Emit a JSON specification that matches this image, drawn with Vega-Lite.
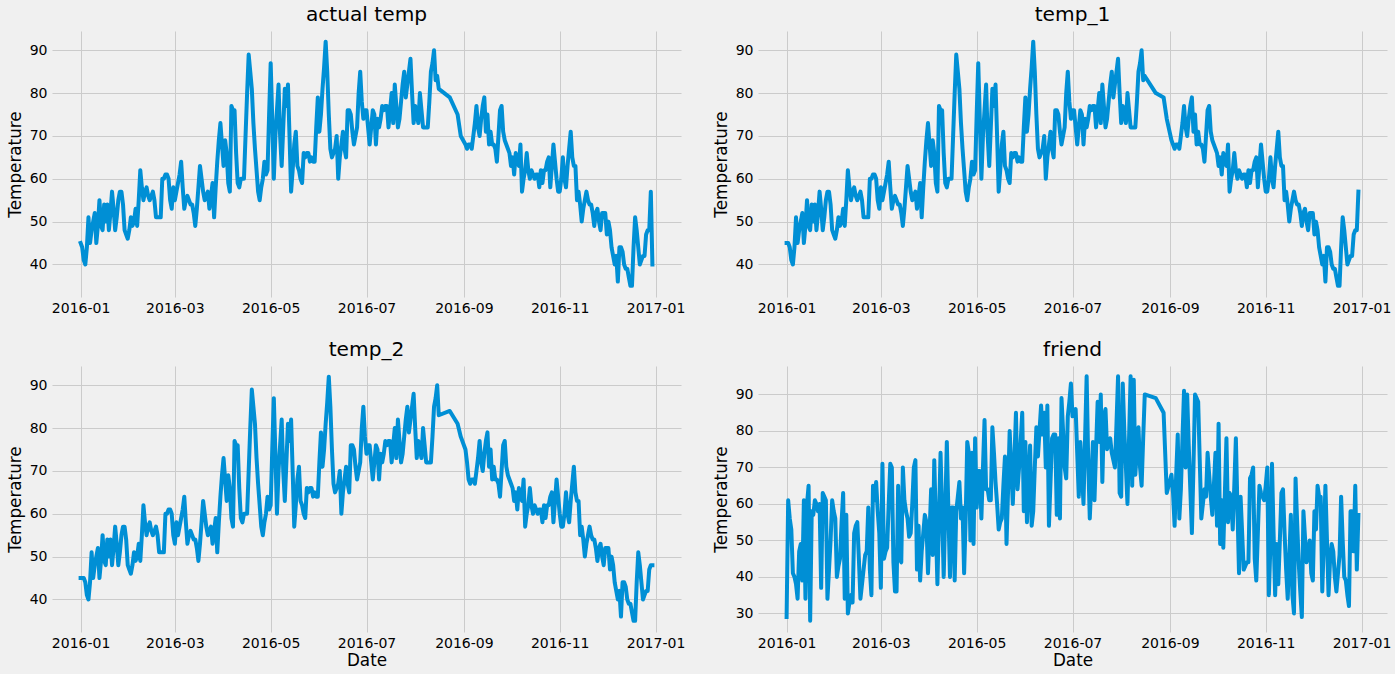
{
"$schema": "https://vega.github.io/schema/vega-lite/v6.json",
"background": "#f0f0f0",
"padding": {"left": 7, "top": 4, "right": 5, "bottom": 5},
"config": {
  "view": {"stroke": null, "fill": "#f0f0f0"},
  "font": "DejaVu Sans",
  "axis": {"domain": false, "ticks": false, "grid": true, "gridColor": "#cbcbcb", "gridWidth": 1, "labelFont": "DejaVu Sans", "labelFontSize": 14, "labelColor": "#000000", "titleFont": "DejaVu Sans", "titleFontSize": 16.8, "titleFontWeight": "normal", "titleColor": "#000000", "labelPadding": 5},
  "title": {"font": "DejaVu Sans", "fontSize": 20.16, "fontWeight": "normal", "color": "#000000", "offset": 6, "baseline": "bottom"}
},
"data": {"values": [
{"date":"2016-01-01","actual":45,"temp_1":45,"temp_2":45,"friend":29},
{"date":"2016-01-02","actual":44,"temp_1":45,"temp_2":45,"friend":61},
{"date":"2016-01-03","actual":41,"temp_1":44,"temp_2":45,"friend":56},
{"date":"2016-01-04","actual":40,"temp_1":41,"temp_2":44,"friend":53},
{"date":"2016-01-05","actual":44,"temp_1":40,"temp_2":41,"friend":41},
{"date":"2016-01-06","actual":51,"temp_1":44,"temp_2":40,"friend":40},
{"date":"2016-01-07","actual":45,"temp_1":51,"temp_2":44,"friend":38},
{"date":"2016-01-08","actual":48,"temp_1":45,"temp_2":51,"friend":34},
{"date":"2016-01-09","actual":50,"temp_1":48,"temp_2":45,"friend":47},
{"date":"2016-01-10","actual":52,"temp_1":50,"temp_2":48,"friend":49},
{"date":"2016-01-11","actual":45,"temp_1":52,"temp_2":50,"friend":39},
{"date":"2016-01-12","actual":49,"temp_1":45,"temp_2":52,"friend":61},
{"date":"2016-01-13","actual":55,"temp_1":49,"temp_2":45,"friend":34},
{"date":"2016-01-14","actual":49,"temp_1":55,"temp_2":49,"friend":60},
{"date":"2016-01-15","actual":48,"temp_1":49,"temp_2":55,"friend":65},
{"date":"2016-01-16","actual":54,"temp_1":48,"temp_2":49,"friend":28},
{"date":"2016-01-17","actual":50,"temp_1":54,"temp_2":48,"friend":58},
{"date":"2016-01-18","actual":54,"temp_1":50,"temp_2":54,"friend":57},
{"date":"2016-01-19","actual":48,"temp_1":54,"temp_2":50,"friend":61},
{"date":"2016-01-20","actual":52,"temp_1":48,"temp_2":54,"friend":60},
{"date":"2016-01-21","actual":57,"temp_1":52,"temp_2":48,"friend":58},
{"date":"2016-01-22","actual":53,"temp_1":57,"temp_2":52,"friend":60},
{"date":"2016-01-23","actual":48,"temp_1":53,"temp_2":57,"friend":37},
{"date":"2016-01-24","actual":51,"temp_1":48,"temp_2":53,"friend":63},
{"date":"2016-01-25","actual":55,"temp_1":51,"temp_2":48,"friend":62},
{"date":"2016-01-26","actual":57,"temp_1":55,"temp_2":51,"friend":61},
{"date":"2016-01-27","actual":57,"temp_1":57,"temp_2":55,"friend":34},
{"date":"2016-01-28","actual":54,"temp_1":57,"temp_2":57,"friend":42},
{"date":"2016-01-29","actual":48,"temp_1":54,"temp_2":57,"friend":50},
{"date":"2016-01-30","actual":47,"temp_1":48,"temp_2":54,"friend":61},
{"date":"2016-01-31","actual":46,"temp_1":47,"temp_2":48,"friend":58},
{"date":"2016-02-01","actual":48,"temp_1":46,"temp_2":47,"friend":56},
{"date":"2016-02-02","actual":51,"temp_1":48,"temp_2":46,"friend":40},
{"date":"2016-02-03","actual":49,"temp_1":51,"temp_2":48,"friend":43},
{"date":"2016-02-04","actual":50,"temp_1":49,"temp_2":51,"friend":45},
{"date":"2016-02-05","actual":53,"temp_1":50,"temp_2":49,"friend":55},
{"date":"2016-02-06","actual":49,"temp_1":53,"temp_2":50,"friend":63},
{"date":"2016-02-07","actual":55,"temp_1":49,"temp_2":53,"friend":34},
{"date":"2016-02-08","actual":62,"temp_1":55,"temp_2":49,"friend":57},
{"date":"2016-02-09","actual":58,"temp_1":62,"temp_2":55,"friend":30},
{"date":"2016-02-10","actual":55,"temp_1":58,"temp_2":62,"friend":33},
{"date":"2016-02-11","actual":57,"temp_1":55,"temp_2":58,"friend":35},
{"date":"2016-02-12","actual":58,"temp_1":57,"temp_2":55,"friend":33},
{"date":"2016-02-13","actual":56,"temp_1":58,"temp_2":57,"friend":52},
{"date":"2016-02-14","actual":55,"temp_1":56,"temp_2":58,"friend":54},
{"date":"2016-02-15","actual":56,"temp_1":55,"temp_2":56,"friend":55},
{"date":"2016-02-16","actual":57,"temp_1":56,"temp_2":55,"friend":45},
{"date":"2016-02-17","actual":55,"temp_1":57,"temp_2":56,"friend":34},
{"date":"2016-02-18","actual":51,"temp_1":55,"temp_2":57,"friend":38},
{"date":"2016-02-19","actual":51,"temp_1":51,"temp_2":55,"friend":42},
{"date":"2016-02-20","actual":51,"temp_1":51,"temp_2":51,"friend":46},
{"date":"2016-02-21","actual":51,"temp_1":51,"temp_2":51,"friend":47},
{"date":"2016-02-22","actual":60,"temp_1":51,"temp_2":51,"friend":59},
{"date":"2016-02-23","actual":60,"temp_1":60,"temp_2":51,"friend":42},
{"date":"2016-02-24","actual":61,"temp_1":60,"temp_2":60,"friend":35},
{"date":"2016-02-25","actual":61,"temp_1":61,"temp_2":60,"friend":65},
{"date":"2016-02-26","actual":60,"temp_1":61,"temp_2":61,"friend":61},
{"date":"2016-02-27","actual":55,"temp_1":60,"temp_2":61,"friend":66},
{"date":"2016-02-28","actual":53,"temp_1":55,"temp_2":60,"friend":58},
{"date":"2016-02-29","actual":58,"temp_1":53,"temp_2":55,"friend":52},
{"date":"2016-03-01","actual":55,"temp_1":58,"temp_2":53,"friend":37},
{"date":"2016-03-02","actual":57,"temp_1":55,"temp_2":58,"friend":71},
{"date":"2016-03-03","actual":59,"temp_1":57,"temp_2":55,"friend":45},
{"date":"2016-03-04","actual":61,"temp_1":59,"temp_2":57,"friend":47},
{"date":"2016-03-05","actual":64,"temp_1":61,"temp_2":59,"friend":48},
{"date":"2016-03-06","actual":58,"temp_1":64,"temp_2":61,"friend":60},
{"date":"2016-03-07","actual":53,"temp_1":58,"temp_2":64,"friend":71},
{"date":"2016-03-08","actual":55,"temp_1":53,"temp_2":58,"friend":70},
{"date":"2016-03-09","actual":56,"temp_1":55,"temp_2":53,"friend":44},
{"date":"2016-03-10","actual":55,"temp_1":56,"temp_2":55,"friend":36},
{"date":"2016-03-11","actual":54,"temp_1":55,"temp_2":56,"friend":36},
{"date":"2016-03-12","actual":54,"temp_1":54,"temp_2":55,"friend":65},
{"date":"2016-03-13","actual":52,"temp_1":54,"temp_2":54,"friend":45},
{"date":"2016-03-14","actual":49,"temp_1":52,"temp_2":54,"friend":44},
{"date":"2016-03-15","actual":53,"temp_1":49,"temp_2":52,"friend":70},
{"date":"2016-03-16","actual":58,"temp_1":53,"temp_2":49,"friend":61},
{"date":"2016-03-17","actual":63,"temp_1":58,"temp_2":53,"friend":58},
{"date":"2016-03-18","actual":60,"temp_1":63,"temp_2":58,"friend":56},
{"date":"2016-03-19","actual":57,"temp_1":60,"temp_2":63,"friend":51},
{"date":"2016-03-20","actual":55,"temp_1":57,"temp_2":60,"friend":52},
{"date":"2016-03-21","actual":56,"temp_1":55,"temp_2":57,"friend":60},
{"date":"2016-03-22","actual":57,"temp_1":56,"temp_2":55,"friend":70},
{"date":"2016-03-23","actual":53,"temp_1":57,"temp_2":56,"friend":72},
{"date":"2016-03-24","actual":56,"temp_1":53,"temp_2":57,"friend":42},
{"date":"2016-03-25","actual":59,"temp_1":56,"temp_2":53,"friend":54},
{"date":"2016-03-26","actual":51,"temp_1":59,"temp_2":56,"friend":39},
{"date":"2016-03-27","actual":58,"temp_1":51,"temp_2":59,"friend":47},
{"date":"2016-03-28","actual":64,"temp_1":58,"temp_2":51,"friend":52},
{"date":"2016-03-29","actual":69,"temp_1":64,"temp_2":58,"friend":57},
{"date":"2016-03-30","actual":73,"temp_1":69,"temp_2":64,"friend":55},
{"date":"2016-03-31","actual":68,"temp_1":73,"temp_2":69,"friend":41},
{"date":"2016-04-01","actual":63,"temp_1":68,"temp_2":73,"friend":52},
{"date":"2016-04-02","actual":69,"temp_1":63,"temp_2":68,"friend":64},
{"date":"2016-04-03","actual":66,"temp_1":69,"temp_2":63,"friend":46},
{"date":"2016-04-04","actual":59,"temp_1":66,"temp_2":69,"friend":72},
{"date":"2016-04-05","actual":57,"temp_1":59,"temp_2":66,"friend":55},
{"date":"2016-04-06","actual":77,"temp_1":57,"temp_2":59,"friend":38},
{"date":"2016-04-07","actual":76,"temp_1":77,"temp_2":57,"friend":56},
{"date":"2016-04-08","actual":76,"temp_1":76,"temp_2":77,"friend":74},
{"date":"2016-04-09","actual":66,"temp_1":76,"temp_2":76,"friend":58},
{"date":"2016-04-10","actual":59,"temp_1":66,"temp_2":76,"friend":40},
{"date":"2016-04-11","actual":58,"temp_1":59,"temp_2":66,"friend":58},
{"date":"2016-04-12","actual":60,"temp_1":58,"temp_2":59,"friend":77},
{"date":"2016-04-13","actual":60,"temp_1":60,"temp_2":58,"friend":58},
{"date":"2016-04-14","actual":60,"temp_1":60,"temp_2":60,"friend":40},
{"date":"2016-04-15","actual":70,"temp_1":60,"temp_2":60,"friend":59},
{"date":"2016-04-16","actual":80,"temp_1":70,"temp_2":60,"friend":59},
{"date":"2016-04-17","actual":89,"temp_1":80,"temp_2":70,"friend":39},
{"date":"2016-04-18","actual":85,"temp_1":89,"temp_2":80,"friend":58},
{"date":"2016-04-19","actual":81,"temp_1":85,"temp_2":89,"friend":62},
{"date":"2016-04-20","actual":73,"temp_1":81,"temp_2":85,"friend":66},
{"date":"2016-04-21","actual":67,"temp_1":73,"temp_2":81,"friend":56},
{"date":"2016-04-22","actual":62,"temp_1":67,"temp_2":73,"friend":59},
{"date":"2016-04-23","actual":57,"temp_1":62,"temp_2":67,"friend":41},
{"date":"2016-04-24","actual":55,"temp_1":57,"temp_2":62,"friend":56},
{"date":"2016-04-25","actual":58,"temp_1":55,"temp_2":57,"friend":77},
{"date":"2016-04-26","actual":60,"temp_1":58,"temp_2":55,"friend":74},
{"date":"2016-04-27","actual":64,"temp_1":60,"temp_2":58,"friend":50},
{"date":"2016-04-28","actual":61,"temp_1":64,"temp_2":60,"friend":74},
{"date":"2016-04-29","actual":62,"temp_1":61,"temp_2":64,"friend":49},
{"date":"2016-04-30","actual":75,"temp_1":62,"temp_2":61,"friend":78},
{"date":"2016-05-01","actual":87,"temp_1":75,"temp_2":62,"friend":59},
{"date":"2016-05-02","actual":74,"temp_1":87,"temp_2":75,"friend":69},
{"date":"2016-05-03","actual":60,"temp_1":74,"temp_2":87,"friend":69},
{"date":"2016-05-04","actual":70,"temp_1":60,"temp_2":74,"friend":56},
{"date":"2016-05-05","actual":76,"temp_1":70,"temp_2":60,"friend":70},
{"date":"2016-05-06","actual":82,"temp_1":76,"temp_2":70,"friend":83},
{"date":"2016-05-07","actual":70,"temp_1":82,"temp_2":76,"friend":64},
{"date":"2016-05-08","actual":63,"temp_1":70,"temp_2":82,"friend":64},
{"date":"2016-05-09","actual":72,"temp_1":63,"temp_2":70,"friend":61},
{"date":"2016-05-10","actual":81,"temp_1":72,"temp_2":63,"friend":61},
{"date":"2016-05-11","actual":77,"temp_1":81,"temp_2":72,"friend":81},
{"date":"2016-05-12","actual":82,"temp_1":77,"temp_2":81,"friend":74},
{"date":"2016-05-13","actual":70,"temp_1":82,"temp_2":77,"friend":66},
{"date":"2016-05-14","actual":57,"temp_1":70,"temp_2":82,"friend":60},
{"date":"2016-05-15","actual":62,"temp_1":57,"temp_2":70,"friend":53},
{"date":"2016-05-16","actual":68,"temp_1":62,"temp_2":57,"friend":55},
{"date":"2016-05-17","actual":71,"temp_1":68,"temp_2":62,"friend":56},
{"date":"2016-05-18","actual":63,"temp_1":71,"temp_2":68,"friend":65},
{"date":"2016-05-19","actual":62,"temp_1":63,"temp_2":71,"friend":73},
{"date":"2016-05-20","actual":60,"temp_1":62,"temp_2":63,"friend":49},
{"date":"2016-05-21","actual":59,"temp_1":60,"temp_2":62,"friend":64},
{"date":"2016-05-22","actual":66,"temp_1":59,"temp_2":60,"friend":80},
{"date":"2016-05-23","actual":65,"temp_1":66,"temp_2":59,"friend":70},
{"date":"2016-05-24","actual":66,"temp_1":65,"temp_2":66,"friend":60},
{"date":"2016-05-25","actual":66,"temp_1":66,"temp_2":65,"friend":72},
{"date":"2016-05-26","actual":64,"temp_1":66,"temp_2":66,"friend":85},
{"date":"2016-05-27","actual":65,"temp_1":64,"temp_2":66,"friend":64},
{"date":"2016-05-28","actual":64,"temp_1":65,"temp_2":64,"friend":70},
{"date":"2016-05-29","actual":64,"temp_1":64,"temp_2":65,"friend":77},
{"date":"2016-05-30","actual":72,"temp_1":64,"temp_2":64,"friend":85},
{"date":"2016-05-31","actual":79,"temp_1":72,"temp_2":64,"friend":58},
{"date":"2016-06-01","actual":71,"temp_1":79,"temp_2":72,"friend":77},
{"date":"2016-06-02","actual":75,"temp_1":71,"temp_2":79,"friend":55},
{"date":"2016-06-03","actual":81,"temp_1":75,"temp_2":71,"friend":66},
{"date":"2016-06-04","actual":86,"temp_1":81,"temp_2":75,"friend":76},
{"date":"2016-06-05","actual":92,"temp_1":86,"temp_2":81,"friend":54},
{"date":"2016-06-06","actual":85,"temp_1":92,"temp_2":86,"friend":58},
{"date":"2016-06-07","actual":75,"temp_1":85,"temp_2":92,"friend":70},
{"date":"2016-06-08","actual":67,"temp_1":75,"temp_2":85,"friend":81},
{"date":"2016-06-09","actual":65,"temp_1":67,"temp_2":75,"friend":73},
{"date":"2016-06-10","actual":66,"temp_1":65,"temp_2":67,"friend":80},
{"date":"2016-06-11","actual":67,"temp_1":66,"temp_2":65,"friend":87},
{"date":"2016-06-12","actual":70,"temp_1":67,"temp_2":66,"friend":79},
{"date":"2016-06-13","actual":60,"temp_1":70,"temp_2":67,"friend":85},
{"date":"2016-06-14","actual":65,"temp_1":60,"temp_2":70,"friend":70},
{"date":"2016-06-15","actual":68,"temp_1":65,"temp_2":60,"friend":87},
{"date":"2016-06-16","actual":71,"temp_1":68,"temp_2":65,"friend":54},
{"date":"2016-06-17","actual":67,"temp_1":71,"temp_2":68,"friend":66},
{"date":"2016-06-18","actual":65,"temp_1":67,"temp_2":71,"friend":78},
{"date":"2016-06-19","actual":76,"temp_1":65,"temp_2":67,"friend":79},
{"date":"2016-06-20","actual":76,"temp_1":76,"temp_2":65,"friend":79},
{"date":"2016-06-21","actual":75,"temp_1":76,"temp_2":76,"friend":57},
{"date":"2016-06-22","actual":71,"temp_1":75,"temp_2":76,"friend":78},
{"date":"2016-06-23","actual":68,"temp_1":71,"temp_2":75,"friend":56},
{"date":"2016-06-24","actual":70,"temp_1":68,"temp_2":71,"friend":89},
{"date":"2016-06-25","actual":72,"temp_1":70,"temp_2":68,"friend":80},
{"date":"2016-06-26","actual":80,"temp_1":72,"temp_2":70,"friend":70},
{"date":"2016-06-27","actual":85,"temp_1":80,"temp_2":72,"friend":67},
{"date":"2016-06-28","actual":78,"temp_1":85,"temp_2":80,"friend":84},
{"date":"2016-06-29","actual":74,"temp_1":78,"temp_2":85,"friend":88},
{"date":"2016-06-30","actual":76,"temp_1":74,"temp_2":78,"friend":93},
{"date":"2016-07-01","actual":76,"temp_1":76,"temp_2":74,"friend":84},
{"date":"2016-07-02","actual":72,"temp_1":76,"temp_2":76,"friend":85},
{"date":"2016-07-03","actual":68,"temp_1":72,"temp_2":76,"friend":86},
{"date":"2016-07-04","actual":72,"temp_1":68,"temp_2":72,"friend":74},
{"date":"2016-07-05","actual":76,"temp_1":72,"temp_2":68,"friend":62},
{"date":"2016-07-06","actual":75,"temp_1":76,"temp_2":72,"friend":77},
{"date":"2016-07-07","actual":68,"temp_1":75,"temp_2":76,"friend":69},
{"date":"2016-07-08","actual":74,"temp_1":68,"temp_2":75,"friend":60},
{"date":"2016-07-09","actual":72,"temp_1":74,"temp_2":68,"friend":78},
{"date":"2016-07-10","actual":74,"temp_1":72,"temp_2":74,"friend":95},
{"date":"2016-07-11","actual":77,"temp_1":74,"temp_2":72,"friend":72},
{"date":"2016-07-12","actual":76,"temp_1":77,"temp_2":74,"friend":56},
{"date":"2016-07-13","actual":77,"temp_1":76,"temp_2":77,"friend":66},
{"date":"2016-07-14","actual":77,"temp_1":77,"temp_2":76,"friend":77},
{"date":"2016-07-15","actual":72,"temp_1":77,"temp_2":77,"friend":61},
{"date":"2016-07-16","actual":76,"temp_1":72,"temp_2":77,"friend":75},
{"date":"2016-07-17","actual":80,"temp_1":76,"temp_2":72,"friend":88},
{"date":"2016-07-18","actual":73,"temp_1":80,"temp_2":76,"friend":77},
{"date":"2016-07-19","actual":82,"temp_1":73,"temp_2":80,"friend":90},
{"date":"2016-07-20","actual":77,"temp_1":82,"temp_2":73,"friend":66},
{"date":"2016-07-21","actual":72,"temp_1":77,"temp_2":82,"friend":84},
{"date":"2016-07-22","actual":74,"temp_1":72,"temp_2":77,"friend":86},
{"date":"2016-07-23","actual":78,"temp_1":74,"temp_2":72,"friend":75},
{"date":"2016-07-24","actual":82,"temp_1":78,"temp_2":74,"friend":77},
{"date":"2016-07-25","actual":85,"temp_1":82,"temp_2":78,"friend":78},
{"date":"2016-07-26","actual":79,"temp_1":85,"temp_2":82,"friend":74},
{"date":"2016-07-27","actual":82,"temp_1":79,"temp_2":85,"friend":72},
{"date":"2016-07-28","actual":85,"temp_1":82,"temp_2":79,"friend":70},
{"date":"2016-07-29","actual":88,"temp_1":85,"temp_2":82,"friend":82},
{"date":"2016-07-30","actual":80,"temp_1":88,"temp_2":85,"friend":95},
{"date":"2016-07-31","actual":73,"temp_1":80,"temp_2":88,"friend":63},
{"date":"2016-08-01","actual":77,"temp_1":73,"temp_2":80,"friend":62},
{"date":"2016-08-02","actual":75,"temp_1":77,"temp_2":73,"friend":93},
{"date":"2016-08-03","actual":73,"temp_1":75,"temp_2":77,"friend":80},
{"date":"2016-08-04","actual":80,"temp_1":73,"temp_2":75,"friend":70},
{"date":"2016-08-05","actual":76,"temp_1":80,"temp_2":73,"friend":60},
{"date":"2016-08-06","actual":72,"temp_1":76,"temp_2":80,"friend":78},
{"date":"2016-08-07","actual":72,"temp_1":72,"temp_2":76,"friend":95},
{"date":"2016-08-08","actual":72,"temp_1":72,"temp_2":72,"friend":65},
{"date":"2016-08-09","actual":72,"temp_1":72,"temp_2":72,"friend":94},
{"date":"2016-08-10","actual":78,"temp_1":72,"temp_2":72,"friend":68},
{"date":"2016-08-11","actual":85,"temp_1":78,"temp_2":72,"friend":75},
{"date":"2016-08-12","actual":87,"temp_1":85,"temp_2":78,"friend":81},
{"date":"2016-08-13","actual":90,"temp_1":87,"temp_2":85,"friend":70},
{"date":"2016-08-14","actual":83,"temp_1":90,"temp_2":87,"friend":65},
{"date":"2016-08-15","actual":84,"temp_1":83,"temp_2":90,"friend":78},
{"date":"2016-08-16","actual":81,"temp_1":84,"temp_2":83,"friend":90},
{"date":"2016-08-23","actual":79,"temp_1":80,"temp_2":84,"friend":89},
{"date":"2016-08-28","actual":75,"temp_1":79,"temp_2":81,"friend":85},
{"date":"2016-08-30","actual":70,"temp_1":74,"temp_2":78,"friend":63},
{"date":"2016-09-02","actual":68,"temp_1":69,"temp_2":75,"friend":68},
{"date":"2016-09-03","actual":67,"temp_1":68,"temp_2":72,"friend":63},
{"date":"2016-09-04","actual":68,"temp_1":67,"temp_2":68,"friend":54},
{"date":"2016-09-05","actual":68,"temp_1":68,"temp_2":67,"friend":68},
{"date":"2016-09-06","actual":67,"temp_1":68,"temp_2":68,"friend":79},
{"date":"2016-09-07","actual":70,"temp_1":67,"temp_2":68,"friend":56},
{"date":"2016-09-08","actual":73,"temp_1":70,"temp_2":67,"friend":64},
{"date":"2016-09-09","actual":77,"temp_1":73,"temp_2":70,"friend":78},
{"date":"2016-09-10","actual":72,"temp_1":77,"temp_2":73,"friend":91},
{"date":"2016-09-11","actual":70,"temp_1":72,"temp_2":77,"friend":70},
{"date":"2016-09-12","actual":74,"temp_1":70,"temp_2":72,"friend":90},
{"date":"2016-09-13","actual":77,"temp_1":74,"temp_2":70,"friend":76},
{"date":"2016-09-14","actual":79,"temp_1":77,"temp_2":74,"friend":64},
{"date":"2016-09-15","actual":71,"temp_1":79,"temp_2":77,"friend":52},
{"date":"2016-09-16","actual":75,"temp_1":71,"temp_2":79,"friend":70},
{"date":"2016-09-17","actual":68,"temp_1":75,"temp_2":71,"friend":90},
{"date":"2016-09-18","actual":71,"temp_1":68,"temp_2":75,"friend":89},
{"date":"2016-09-19","actual":68,"temp_1":71,"temp_2":68,"friend":88},
{"date":"2016-09-20","actual":68,"temp_1":68,"temp_2":71,"friend":72},
{"date":"2016-09-21","actual":67,"temp_1":68,"temp_2":68,"friend":56},
{"date":"2016-09-22","actual":64,"temp_1":67,"temp_2":68,"friend":60},
{"date":"2016-09-23","actual":70,"temp_1":64,"temp_2":67,"friend":64},
{"date":"2016-09-24","actual":76,"temp_1":70,"temp_2":64,"friend":62},
{"date":"2016-09-25","actual":77,"temp_1":76,"temp_2":70,"friend":74},
{"date":"2016-09-26","actual":71,"temp_1":77,"temp_2":76,"friend":68},
{"date":"2016-09-27","actual":69,"temp_1":71,"temp_2":77,"friend":62},
{"date":"2016-09-28","actual":68,"temp_1":69,"temp_2":71,"friend":57},
{"date":"2016-09-29","actual":67,"temp_1":68,"temp_2":69,"friend":65},
{"date":"2016-09-30","actual":66,"temp_1":67,"temp_2":68,"friend":74},
{"date":"2016-10-01","actual":63,"temp_1":66,"temp_2":67,"friend":54},
{"date":"2016-10-02","actual":65,"temp_1":63,"temp_2":66,"friend":82},
{"date":"2016-10-03","actual":61,"temp_1":65,"temp_2":63,"friend":49},
{"date":"2016-10-04","actual":66,"temp_1":61,"temp_2":65,"friend":61},
{"date":"2016-10-05","actual":64,"temp_1":66,"temp_2":61,"friend":48},
{"date":"2016-10-06","actual":63,"temp_1":64,"temp_2":66,"friend":63},
{"date":"2016-10-07","actual":68,"temp_1":63,"temp_2":64,"friend":78},
{"date":"2016-10-08","actual":57,"temp_1":68,"temp_2":63,"friend":55},
{"date":"2016-10-09","actual":60,"temp_1":57,"temp_2":68,"friend":63},
{"date":"2016-10-10","actual":62,"temp_1":60,"temp_2":57,"friend":62},
{"date":"2016-10-11","actual":66,"temp_1":62,"temp_2":60,"friend":53},
{"date":"2016-10-12","actual":62,"temp_1":66,"temp_2":62,"friend":65},
{"date":"2016-10-13","actual":60,"temp_1":62,"temp_2":66,"friend":78},
{"date":"2016-10-14","actual":62,"temp_1":60,"temp_2":62,"friend":59},
{"date":"2016-10-15","actual":61,"temp_1":62,"temp_2":60,"friend":41},
{"date":"2016-10-16","actual":60,"temp_1":61,"temp_2":62,"friend":62},
{"date":"2016-10-17","actual":61,"temp_1":60,"temp_2":61,"friend":52},
{"date":"2016-10-18","actual":61,"temp_1":61,"temp_2":60,"friend":42},
{"date":"2016-10-19","actual":58,"temp_1":61,"temp_2":61,"friend":43},
{"date":"2016-10-20","actual":62,"temp_1":58,"temp_2":61,"friend":44},
{"date":"2016-10-21","actual":59,"temp_1":62,"temp_2":58,"friend":44},
{"date":"2016-10-22","actual":62,"temp_1":59,"temp_2":62,"friend":67},
{"date":"2016-10-23","actual":62,"temp_1":62,"temp_2":59,"friend":68},
{"date":"2016-10-24","actual":64,"temp_1":62,"temp_2":62,"friend":70},
{"date":"2016-10-25","actual":65,"temp_1":64,"temp_2":62,"friend":45},
{"date":"2016-10-26","actual":58,"temp_1":65,"temp_2":64,"friend":39},
{"date":"2016-10-27","actual":63,"temp_1":58,"temp_2":65,"friend":52},
{"date":"2016-10-28","actual":68,"temp_1":63,"temp_2":58,"friend":65},
{"date":"2016-10-29","actual":64,"temp_1":68,"temp_2":63,"friend":63},
{"date":"2016-10-30","actual":60,"temp_1":64,"temp_2":68,"friend":62},
{"date":"2016-10-31","actual":57,"temp_1":60,"temp_2":64,"friend":61},
{"date":"2016-11-01","actual":57,"temp_1":57,"temp_2":60,"friend":65},
{"date":"2016-11-02","actual":60,"temp_1":57,"temp_2":57,"friend":70},
{"date":"2016-11-03","actual":65,"temp_1":60,"temp_2":57,"friend":35},
{"date":"2016-11-04","actual":60,"temp_1":65,"temp_2":60,"friend":49},
{"date":"2016-11-05","actual":58,"temp_1":60,"temp_2":65,"friend":71},
{"date":"2016-11-06","actual":63,"temp_1":58,"temp_2":60,"friend":52},
{"date":"2016-11-07","actual":67,"temp_1":63,"temp_2":58,"friend":35},
{"date":"2016-11-08","actual":71,"temp_1":67,"temp_2":63,"friend":49},
{"date":"2016-11-09","actual":65,"temp_1":71,"temp_2":67,"friend":38},
{"date":"2016-11-10","actual":63,"temp_1":65,"temp_2":71,"friend":50},
{"date":"2016-11-11","actual":63,"temp_1":63,"temp_2":65,"friend":63},
{"date":"2016-11-12","actual":55,"temp_1":63,"temp_2":63,"friend":64},
{"date":"2016-11-13","actual":57,"temp_1":55,"temp_2":63,"friend":52},
{"date":"2016-11-14","actual":54,"temp_1":57,"temp_2":55,"friend":42},
{"date":"2016-11-15","actual":50,"temp_1":54,"temp_2":57,"friend":34},
{"date":"2016-11-16","actual":53,"temp_1":50,"temp_2":54,"friend":45},
{"date":"2016-11-17","actual":55,"temp_1":53,"temp_2":50,"friend":57},
{"date":"2016-11-18","actual":57,"temp_1":55,"temp_2":53,"friend":35},
{"date":"2016-11-19","actual":55,"temp_1":57,"temp_2":55,"friend":30},
{"date":"2016-11-20","actual":54,"temp_1":55,"temp_2":57,"friend":67},
{"date":"2016-11-21","actual":54,"temp_1":54,"temp_2":55,"friend":55},
{"date":"2016-11-22","actual":52,"temp_1":54,"temp_2":54,"friend":44},
{"date":"2016-11-23","actual":49,"temp_1":52,"temp_2":54,"friend":36},
{"date":"2016-11-24","actual":52,"temp_1":49,"temp_2":52,"friend":29},
{"date":"2016-11-25","actual":53,"temp_1":52,"temp_2":49,"friend":58},
{"date":"2016-11-26","actual":50,"temp_1":53,"temp_2":52,"friend":51},
{"date":"2016-11-27","actual":48,"temp_1":50,"temp_2":53,"friend":44},
{"date":"2016-11-28","actual":52,"temp_1":48,"temp_2":50,"friend":47},
{"date":"2016-11-29","actual":52,"temp_1":52,"temp_2":48,"friend":50},
{"date":"2016-11-30","actual":52,"temp_1":52,"temp_2":52,"friend":41},
{"date":"2016-12-01","actual":47,"temp_1":52,"temp_2":52,"friend":39},
{"date":"2016-12-02","actual":50,"temp_1":47,"temp_2":52,"friend":58},
{"date":"2016-12-03","actual":48,"temp_1":50,"temp_2":47,"friend":53},
{"date":"2016-12-04","actual":44,"temp_1":48,"temp_2":50,"friend":65},
{"date":"2016-12-05","actual":42,"temp_1":44,"temp_2":48,"friend":62},
{"date":"2016-12-06","actual":40,"temp_1":42,"temp_2":44,"friend":62},
{"date":"2016-12-07","actual":42,"temp_1":40,"temp_2":42,"friend":36},
{"date":"2016-12-08","actual":36,"temp_1":42,"temp_2":40,"friend":50},
{"date":"2016-12-09","actual":44,"temp_1":36,"temp_2":42,"friend":65},
{"date":"2016-12-10","actual":44,"temp_1":44,"temp_2":36,"friend":50},
{"date":"2016-12-11","actual":43,"temp_1":44,"temp_2":44,"friend":35},
{"date":"2016-12-12","actual":40,"temp_1":43,"temp_2":44,"friend":45},
{"date":"2016-12-13","actual":39,"temp_1":40,"temp_2":43,"friend":49},
{"date":"2016-12-14","actual":39,"temp_1":39,"temp_2":40,"friend":47},
{"date":"2016-12-15","actual":37,"temp_1":39,"temp_2":39,"friend":40},
{"date":"2016-12-16","actual":35,"temp_1":37,"temp_2":39,"friend":36},
{"date":"2016-12-17","actual":35,"temp_1":35,"temp_2":37,"friend":41},
{"date":"2016-12-18","actual":44,"temp_1":35,"temp_2":35,"friend":46},
{"date":"2016-12-19","actual":51,"temp_1":44,"temp_2":35,"friend":62},
{"date":"2016-12-20","actual":48,"temp_1":51,"temp_2":44,"friend":50},
{"date":"2016-12-21","actual":44,"temp_1":48,"temp_2":51,"friend":40},
{"date":"2016-12-22","actual":40,"temp_1":44,"temp_2":48,"friend":39},
{"date":"2016-12-23","actual":41,"temp_1":40,"temp_2":44,"friend":35},
{"date":"2016-12-24","actual":42,"temp_1":41,"temp_2":40,"friend":32},
{"date":"2016-12-25","actual":42,"temp_1":42,"temp_2":41,"friend":58},
{"date":"2016-12-26","actual":47,"temp_1":42,"temp_2":42,"friend":58},
{"date":"2016-12-27","actual":48,"temp_1":47,"temp_2":42,"friend":47},
{"date":"2016-12-28","actual":48,"temp_1":48,"temp_2":47,"friend":65},
{"date":"2016-12-29","actual":57,"temp_1":48,"temp_2":48,"friend":42},
{"date":"2016-12-30","actual":40,"temp_1":57,"temp_2":48,"friend":57}
]},
"columns": 2,
"spacing": {"row": 69, "column": 77},
"bounds": "flush",
"concat": [
{
 "title": "actual temp",
 "width": 629, "height": 266,
 "mark": {"type": "line", "color": "#008fd5", "strokeWidth": 4, "strokeJoin": "round", "strokeCap": "square"},
 "encoding": {
  "x": {"field": "date", "type": "temporal",
        "scale": {"type": "utc", "nice": false, "domain": [{"year":2015,"month":12,"date":13,"hours":19,"utc":true},{"year":2017,"month":1,"date":17,"hours":5,"utc":true}]},
        "axis": {"title": null, "format": "%Y-%m", "labelFlush": false, "labelOverlap": false, "labelPadding": 4,
                 "values": [{"year":2016,"month":1,"date":1,"utc":true},{"year":2016,"month":3,"date":1,"utc":true},{"year":2016,"month":5,"date":1,"utc":true},{"year":2016,"month":7,"date":1,"utc":true},{"year":2016,"month":9,"date":1,"utc":true},{"year":2016,"month":11,"date":1,"utc":true},{"year":2017,"month":1,"date":1,"utc":true}]}},
  "y": {"field": "actual", "type": "quantitative",
        "scale": {"domain": [32.4, 94.5], "nice": false, "zero": false},
        "axis": {"title": "Temperature", "values": [40,50,60,70,80,90], "titlePadding": 5}}
 }
},
{
 "title": "temp_1",
 "width": 629, "height": 266,
 "mark": {"type": "line", "color": "#008fd5", "strokeWidth": 4, "strokeJoin": "round", "strokeCap": "square"},
 "encoding": {
  "x": {"field": "date", "type": "temporal",
        "scale": {"type": "utc", "nice": false, "domain": [{"year":2015,"month":12,"date":13,"hours":19,"utc":true},{"year":2017,"month":1,"date":17,"hours":5,"utc":true}]},
        "axis": {"title": null, "format": "%Y-%m", "labelFlush": false, "labelOverlap": false, "labelPadding": 4,
                 "values": [{"year":2016,"month":1,"date":1,"utc":true},{"year":2016,"month":3,"date":1,"utc":true},{"year":2016,"month":5,"date":1,"utc":true},{"year":2016,"month":7,"date":1,"utc":true},{"year":2016,"month":9,"date":1,"utc":true},{"year":2016,"month":11,"date":1,"utc":true},{"year":2017,"month":1,"date":1,"utc":true}]}},
  "y": {"field": "temp_1", "type": "quantitative",
        "scale": {"domain": [32.4, 94.5], "nice": false, "zero": false},
        "axis": {"title": "Temperature", "values": [40,50,60,70,80,90], "titlePadding": 5}}
 }
},
{
 "title": "temp_2",
 "width": 629, "height": 266,
 "mark": {"type": "line", "color": "#008fd5", "strokeWidth": 4, "strokeJoin": "round", "strokeCap": "square"},
 "encoding": {
  "x": {"field": "date", "type": "temporal",
        "scale": {"type": "utc", "nice": false, "domain": [{"year":2015,"month":12,"date":13,"hours":19,"utc":true},{"year":2017,"month":1,"date":17,"hours":5,"utc":true}]},
        "axis": {"title": "Date", "titlePadding": 2, "format": "%Y-%m", "labelFlush": false, "labelOverlap": false, "labelPadding": 4,
                 "values": [{"year":2016,"month":1,"date":1,"utc":true},{"year":2016,"month":3,"date":1,"utc":true},{"year":2016,"month":5,"date":1,"utc":true},{"year":2016,"month":7,"date":1,"utc":true},{"year":2016,"month":9,"date":1,"utc":true},{"year":2016,"month":11,"date":1,"utc":true},{"year":2017,"month":1,"date":1,"utc":true}]}},
  "y": {"field": "temp_2", "type": "quantitative",
        "scale": {"domain": [32.4, 94.5], "nice": false, "zero": false},
        "axis": {"title": "Temperature", "values": [40,50,60,70,80,90], "titlePadding": 5}}
 }
},
{
 "title": "friend",
 "width": 629, "height": 266,
 "mark": {"type": "line", "color": "#008fd5", "strokeWidth": 4, "strokeJoin": "round", "strokeCap": "square"},
 "encoding": {
  "x": {"field": "date", "type": "temporal",
        "scale": {"type": "utc", "nice": false, "domain": [{"year":2015,"month":12,"date":13,"hours":19,"utc":true},{"year":2017,"month":1,"date":17,"hours":5,"utc":true}]},
        "axis": {"title": "Date", "titlePadding": 2, "format": "%Y-%m", "labelFlush": false, "labelOverlap": false, "labelPadding": 4,
                 "values": [{"year":2016,"month":1,"date":1,"utc":true},{"year":2016,"month":3,"date":1,"utc":true},{"year":2016,"month":5,"date":1,"utc":true},{"year":2016,"month":7,"date":1,"utc":true},{"year":2016,"month":9,"date":1,"utc":true},{"year":2016,"month":11,"date":1,"utc":true},{"year":2017,"month":1,"date":1,"utc":true}]}},
  "y": {"field": "friend", "type": "quantitative",
        "scale": {"domain": [24.9, 97.8], "nice": false, "zero": false},
        "axis": {"title": "Temperature", "values": [30,40,50,60,70,80,90], "titlePadding": 5}}
 }
}
]
}
